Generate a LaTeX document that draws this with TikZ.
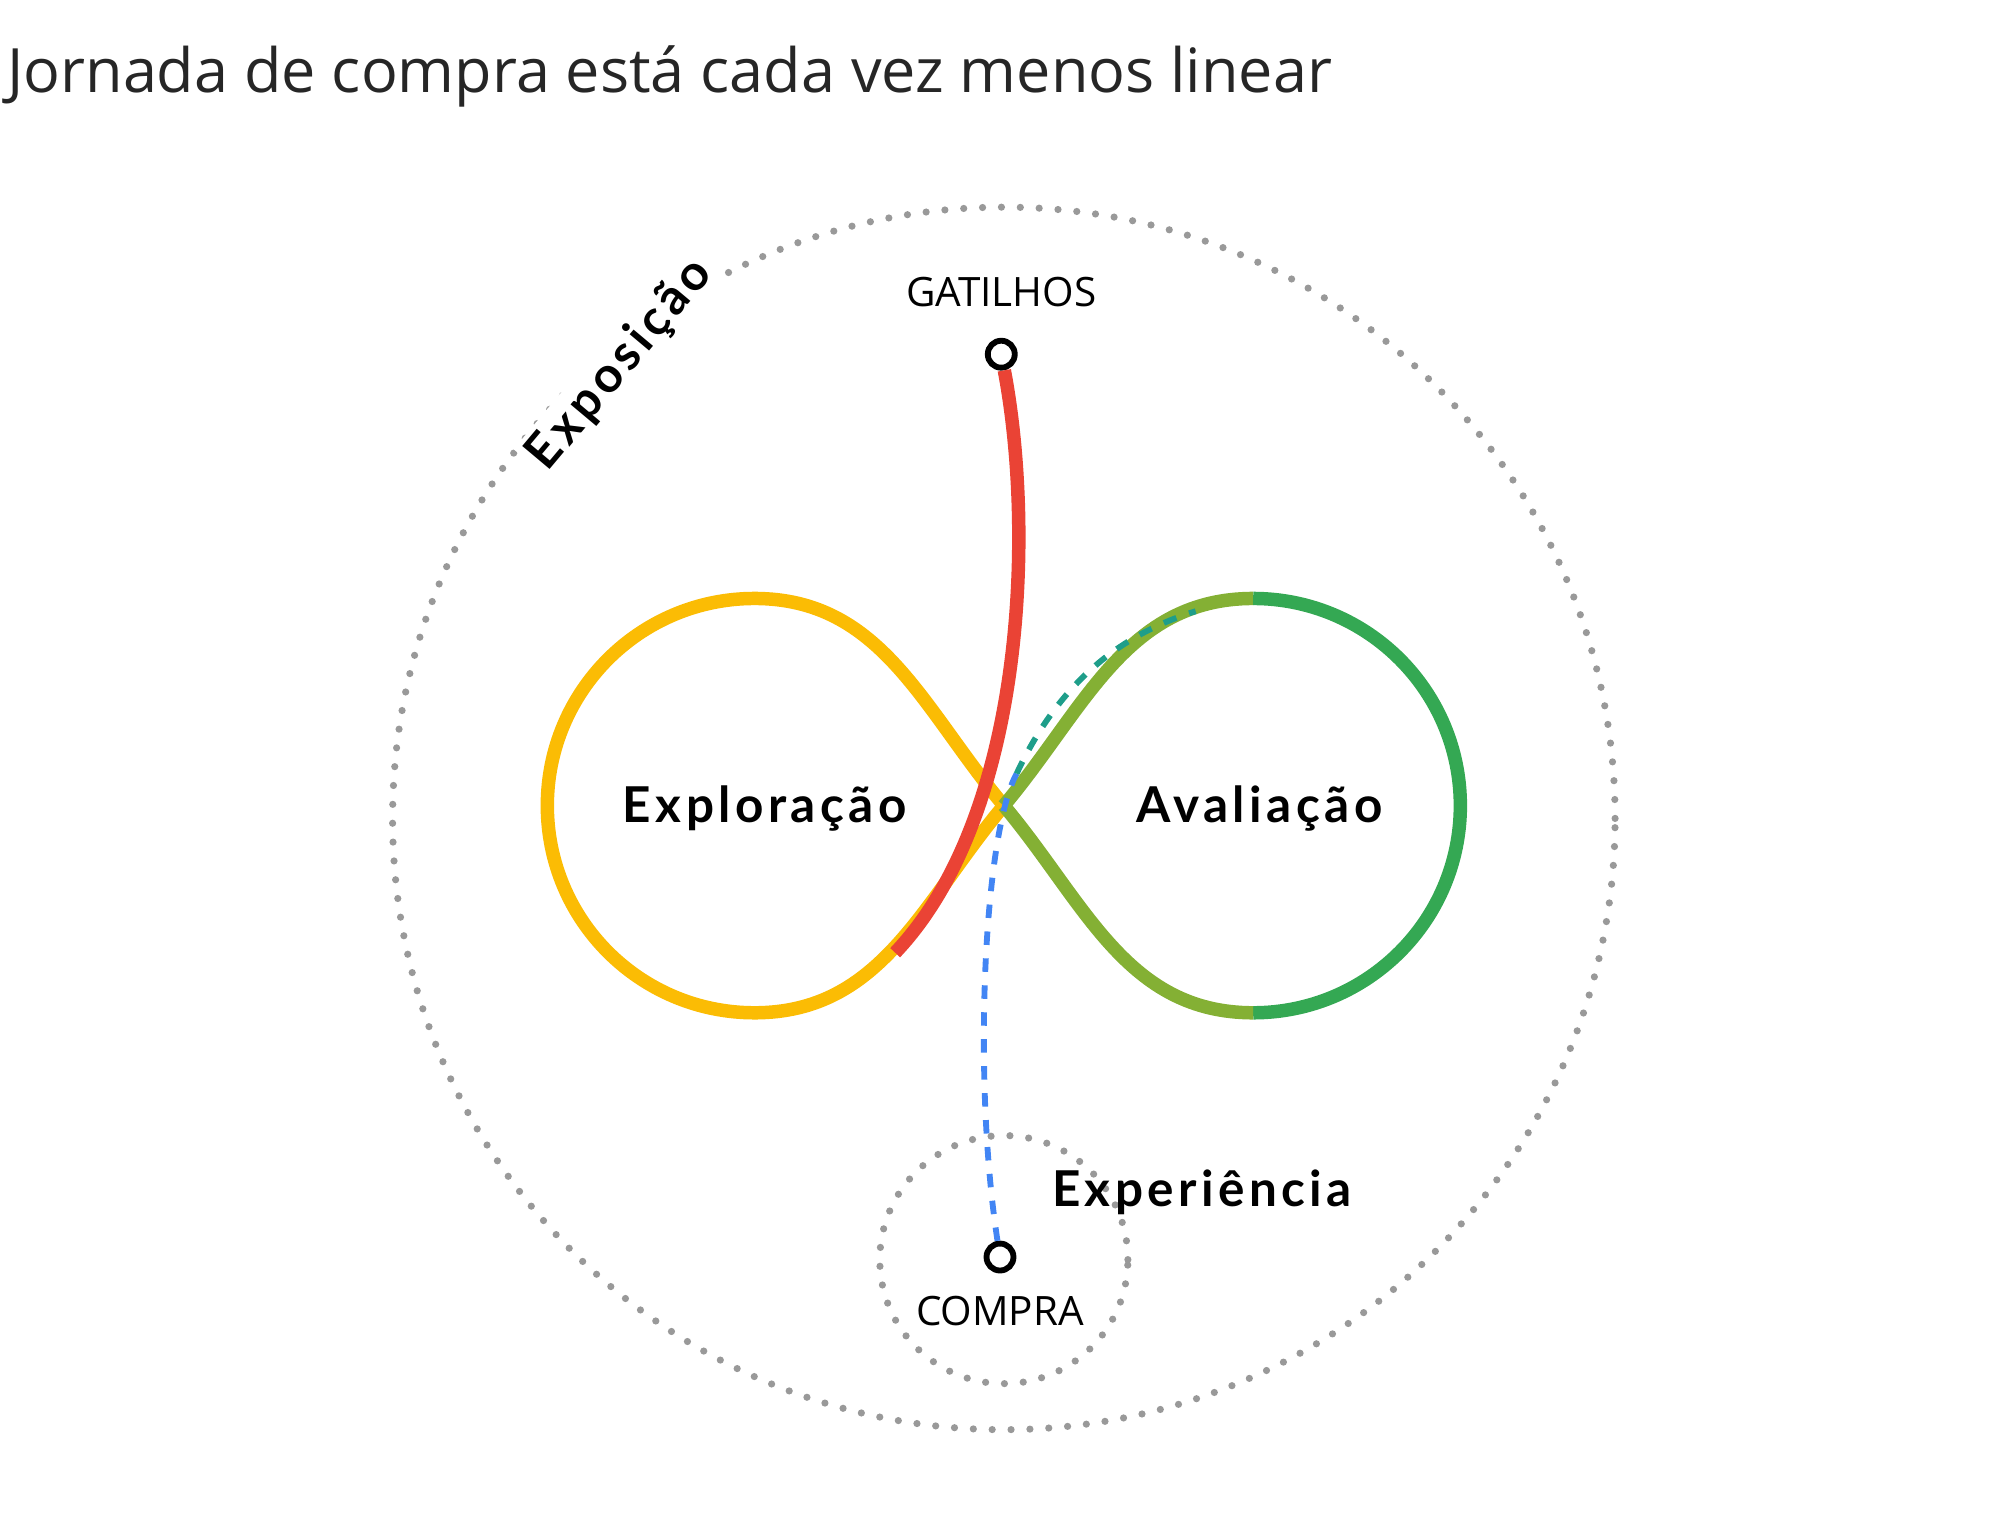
\documentclass[tikz,border=0pt]{standalone}
\usepackage{fontspec}
\setmainfont{Open Sans}
\newfontfamily\stagefont[LetterSpace=9]{Lato}
\usetikzlibrary{positioning}
\definecolor{gyellow}{HTML}{FBBC04}
\definecolor{ggreen}{HTML}{34A853}
\definecolor{gred}{HTML}{EA4335}
\definecolor{gblue}{HTML}{4285F4}
\definecolor{gteal}{HTML}{1E9E8A}
\tikzset{
  dotring/.style={draw=gray!80, line width=1.6pt, dash pattern=on 0pt off 4.2pt, line cap=round},
  loopline/.style={line width=3pt},
  stage/.style={font=\stagefont\bfseries\fontsize{11}{13}\selectfont, text=black},
  tag/.style={font=\fontsize{9}{11}\selectfont, text=black},
  pin/.style={circle, draw=black, line width=1.3pt, fill=white, inner sep=0pt, minimum size=6pt}
}
\begin{document}
\begin{tikzpicture}
    \useasboundingbox (0,0) rectangle (15.64,12);
    \node[anchor=base west, inner sep=0pt, font=\fontsize{13.6}{16}\selectfont, text=black!85] (title) at (0.05,11.28) {Jornada de compra está cada vez menos linear};

    % rings
    \draw[dotring] (7.85,5.60) circle (4.78);
    \draw[dotring] (7.85,2.15) circle (0.97);
    \node[stage, rotate=50, fill=white, inner sep=1pt] (expo) at (4.85,9.15) {Exposição};
    \node[stage] (exper) at (9.40,2.68) {Experiência};

    % infinity loop
    \coordinate (mid) at (7.85,5.70);
    \draw[loopline, gyellow] (mid) to[out=130,in=0] (5.90,7.32) arc (90:270:1.62) to[out=0,in=-130] (mid);
    \draw[loopline, gyellow!40!ggreen] (mid) to[out=50,in=180] (9.80,7.32);
    \draw[loopline, ggreen] (9.80,7.32) arc (90:-90:1.62);
    \draw[loopline, gyellow!40!ggreen] (9.80,4.08) to[out=180,in=-50] (mid);
    \node[stage] (explo) at (5.98,5.68) {Exploração};
    \node[stage] (aval) at (9.85,5.68) {Avaliação};

    % start and end
    \node[pin] (gat) at (7.83,9.23) {};
    \node[tag, above=0.12cm of gat] (gatlabel) {GATILHOS};
    \node[pin] (compra) at (7.82,2.17) {};
    \node[tag, below=0.05cm of compra] (compralabel) {COMPRA};
    \coordinate (enter) at (7.00,4.55);
    \coordinate (exit) at (9.35,7.22);

    \draw[loopline, gred] (gat) .. controls (8.10,7.80) and (8.00,5.60) .. (enter);
    \draw[line width=1.3pt, dashed, gblue] (compra) .. controls (7.60,3.60) and (7.70,5.50) .. (7.95,5.95);
    \draw[line width=1.3pt, dashed, gteal] (7.95,5.95) .. controls (8.30,6.70) and (8.80,7.05) .. (exit);
\end{tikzpicture}
\end{document}
